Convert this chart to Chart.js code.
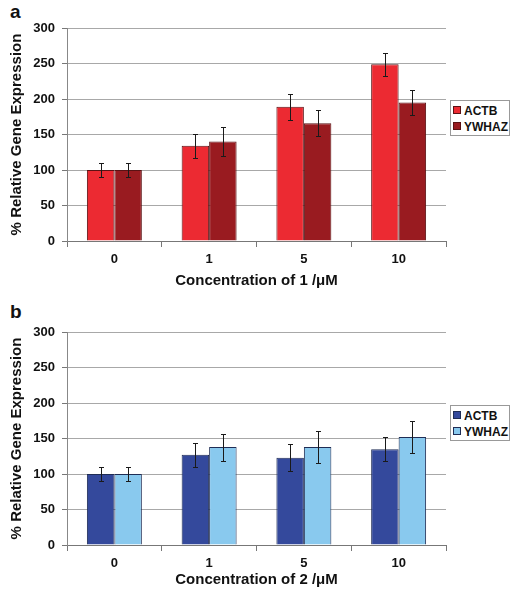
<!DOCTYPE html>
<html>
<head>
<meta charset="utf-8">
<script src="https://cdn.jsdelivr.net/npm/chart.js@4"></script>
<style>
  body { margin: 0; background: #fff; font-family: "Liberation Sans", Arial, sans-serif; }
  #wrap { position: relative; width: 519px; height: 599px; }
  canvas { position: absolute; left: 0; display: block; }
  .panel { position: absolute; left: 10px; font-weight: bold; font-size: 19px; color: #111; }
  .legend { position: absolute; left: 450px; width: 58px; border: 1px solid #999; background: #fff; padding: 2px 0 0 0; }
  .legend div { height: 16px; line-height: 16px; font-weight: bold; font-size: 12px; color: #111; white-space: nowrap; }
  .legend span { display: inline-block; width: 6px; height: 6px; margin: 0 3px 0 2px; vertical-align: 1px; }
</style>
</head>
<body>
<div id="wrap">
  <div class="panel" style="top:1px">a</div>
  <div class="panel" style="top:301px">b</div>
  <canvas id="chartA" width="519" height="300" style="top:0"></canvas>
  <canvas id="chartB" width="519" height="299" style="top:300px"></canvas>
  <div class="legend" id="legendA" style="top:100px"></div>
  <div class="legend" id="legendB" style="top:405px"></div>
</div>
<script>
// Datos
const concentrations = ["0", "1", "5", "10"];
const seriesNames = ["ACTB", "YWHAZ"];

// Panel a
const actbA = [100, 134, 189, 249];
const ywhazA = [100, 140, 166, 195];
const actbErrA = [10, 17, 18, 16];
const ywhazErrA = [10, 20, 18, 17];

// Panel b
const actbB = [100, 127, 123, 135];
const ywhazB = [100, 138, 138, 152];
const actbErrB = [10, 17, 19, 17];
const ywhazErrB = [10, 19, 23, 22];

const yTicksMax = 300;
const yTicksStep = 50;

const FONT = "'Liberation Sans', Arial, sans-serif";

// barras de error
const errorBars = {
  id: "errorBars",
  afterDatasetsDraw(chart) {
    const ctx = chart.ctx;
    const y = chart.scales.y;
    ctx.save();
    ctx.strokeStyle = "#1a1a1a";
    ctx.lineWidth = 1;
    chart.data.datasets.forEach((ds, di) => {
      const meta = chart.getDatasetMeta(di);
      meta.data.forEach((bar, i) => {
        const v = ds.data[i], e = ds.errors[i];
        const x = Math.round(bar.x) + 0.5;
        const yt = Math.round(y.getPixelForValue(v + e)) + 0.5;
        const yb = Math.round(y.getPixelForValue(v - e)) + 0.5;
        ctx.beginPath();
        ctx.moveTo(x, yt); ctx.lineTo(x, yb);
        ctx.moveTo(x - 2.5, yt); ctx.lineTo(x + 2.5, yt);
        ctx.moveTo(x - 2.5, yb); ctx.lineTo(x + 2.5, yb);
        ctx.stroke();
      });
    });
    ctx.restore();
  }
};

function makePanel(id, legendId, values, errors, colors, border, xTitle, plotTop, plotBottom, h) {
  const chart = new Chart(document.getElementById(id).getContext("2d"), {
    type: "bar",
    data: {
      labels: concentrations,
      datasets: values.map((v, k) => ({
        label: seriesNames[k],
        data: v,
        errors: errors[k],
        backgroundColor: colors[k],
        borderColor: border,
        borderWidth: 1,
        categoryPercentage: 0.58,
        barPercentage: 1.0,
      })),
    },
    options: {
      responsive: false,
      animation: false,
      devicePixelRatio: 1,
      layout: { padding: { top: plotTop, right: 73, left: 0, bottom: 0 } },
      plugins: { legend: { display: false }, tooltip: { enabled: false } },
      scales: {
        x: {
          afterFit: (s) => { s.height = h - plotBottom; },
          grid: {
            offset: true,
            drawOnChartArea: true,
            color: (c) => (c.index === concentrations.length ? "#9a9a9a" : "rgba(0,0,0,0)"),
            tickColor: "#777",
            tickLength: 6,
          },
          border: { color: "#777" },
          ticks: { color: "#111", padding: 5, font: { family: FONT, size: 13, weight: "bold" } },
          title: {
            display: true,
            text: xTitle,
            color: "#111",
            padding: { top: 0, bottom: 10 },
            font: { family: FONT, size: 15, weight: "bold" },
          },
        },
        y: {
          min: 0,
          max: yTicksMax,
          afterFit: (s) => { s.width = 67; },
          grid: { color: "#a8a8a8", tickColor: "#777", tickLength: 5 },
          border: { color: "#888" },
          ticks: { stepSize: yTicksStep, color: "#111", padding: 7, font: { family: FONT, size: 13, weight: "bold" } },
          title: {
            display: true,
            text: "% Relative Gene Expression",
            color: "#111",
            padding: { top: 8, bottom: 0 },
            font: { family: FONT, size: 15, weight: "bold" },
          },
        },
      },
    },
    plugins: [errorBars],
  });

  // leyenda
  const leg = document.getElementById(legendId);
  chart.data.datasets.forEach((ds) => {
    const row = document.createElement("div");
    row.innerHTML = '<span style="background:' + ds.backgroundColor + ';border:1px solid ' + border + '"></span>' + ds.label;
    leg.appendChild(row);
  });
}

makePanel("chartA", "legendA", [actbA, ywhazA], [actbErrA, ywhazErrA],
  ["#ec2a32", "#991b20"], "#5a1214", "Concentration of 1 /\u03bcM", 28, 241, 300);
makePanel("chartB", "legendB", [actbB, ywhazB], [actbErrB, ywhazErrB],
  ["#34499c", "#89c9ee"], "#1f2d55", "Concentration of 2 /\u03bcM", 32, 245, 299);
</script>
</body>
</html>
